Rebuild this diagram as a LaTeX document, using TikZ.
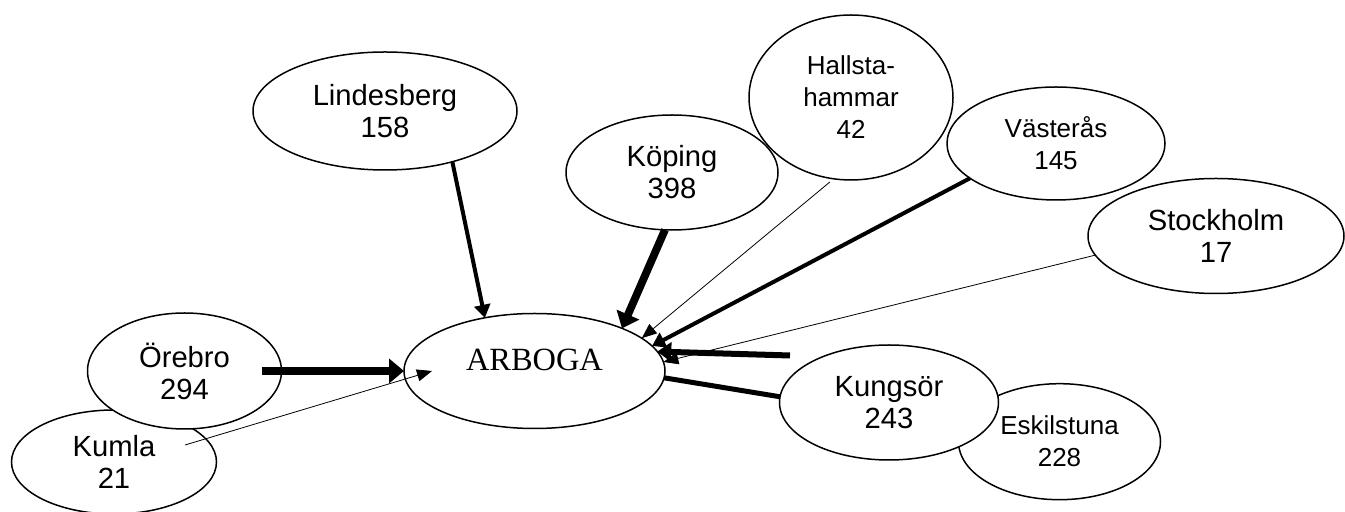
\documentclass[tikz,border=0pt]{standalone}
\usepackage{fontspec}
\newfontfamily\arialf{Liberation Sans}
\newfontfamily\tnrf{Liberation Serif}
\usetikzlibrary{shapes.geometric,arrows.meta}
\begin{document}
\begin{tikzpicture}[x=0.5pt,y=-0.5pt,
  city/.style={ellipse, draw, line width=0.75pt, fill=white, inner sep=0pt, outer sep=0pt,
    align=center, font=\arialf\fontsize{14.6}{16}\selectfont},
  smallcity/.style={city, font=\arialf\fontsize{13}{16}\selectfont},
  thinarrow/.style={line width=0.4pt, -{Triangle[length=7.5pt,width=6pt]}},
  medarrow/.style={line width=2pt, -{Triangle[length=6.5pt,width=8pt]}},
  kungarrow/.style={line width=3pt, -{Triangle[length=7pt,width=9.5pt]}},
  thickarrow/.style={line width=3.9pt, -{Triangle[length=7.5pt,width=12pt]}},
  plainline/.style={line width=2.5pt}
]
\useasboundingbox (0,0) rectangle (1345,512);

% nodes (lower ones first where they overlap)
\node[smallcity, minimum width=101pt, minimum height=58pt] (esk) at (1059.5,441.7) {Eskilstuna\\228};
\node[city, minimum width=109.5pt, minimum height=57.5pt] (kung) at (889,402.5) {Kungsör\\243};
\node[city, minimum width=102.5pt, minimum height=52pt] (kum) at (114,462) {Kumla\\21};
\node[city, minimum width=97pt, minimum height=58pt] (ore) at (184.5,371) {Örebro\\294};
\node[city, minimum width=132pt, minimum height=59pt] (lind) at (385,111) {Lindesberg\\158};
\node[smallcity, minimum width=102pt, minimum height=82.5pt] (hall) at (851,97.5) {Hallsta-\\hammar\\42};
\node[city, minimum width=106pt, minimum height=57.5pt] (kop) at (672,172.5) {Köping\\398};
\node[smallcity, minimum width=109pt, minimum height=56.5pt] (vas) at (1056,143.5) {Västerås\\145};
\node[city, minimum width=128pt, minimum height=57.5pt] (sto) at (1216,236) {Stockholm\\17};
\node[city, minimum width=130.5pt, minimum height=57.5pt, font=\tnrf\fontsize{16.2}{18}\selectfont,
  text height=10.7pt, text depth=10.7pt] (arboga) at (534.5,371) {ARBOGA};

\coordinate (ksfree) at (790,355.5);

% connectors
\draw[medarrow] (lind.-37.6) -- (arboga.133.3);
\draw[thickarrow] (kop.263.1) -- (arboga.26.5);
\draw[thinarrow, shorten <=2.5pt] (hall.258.2) -- (arboga.17.5);
\draw[medarrow] (vas.202.8) -- (arboga.12);
\draw[thinarrow] (sto.189.3) -- (arboga.4);
\draw[kungarrow] (ksfree) -- (arboga.9);
\draw[plainline] (arboga.-3.2) -- (kung.177.9);
\draw[thickarrow] ([xshift=-10pt]ore.east) -- (arboga.west);
\draw[thinarrow] ([shift={(71,-17)}]kum.center) -- ([xshift=14pt]arboga.west);
\end{tikzpicture}
\end{document}
